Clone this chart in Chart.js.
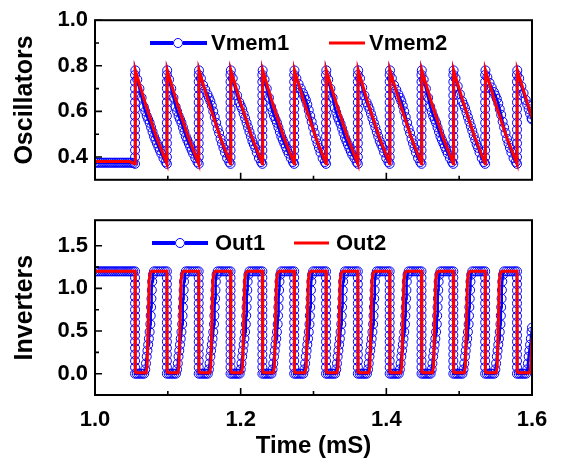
<!DOCTYPE html>
<html><head><meta charset="utf-8">
<script src="https://cdn.jsdelivr.net/npm/chart.js@4.4.1/dist/chart.umd.min.js"></script>
<style>
html,body{margin:0;padding:0;background:#fff;width:561px;height:463px;overflow:hidden}
#c1{position:absolute;left:0;top:0}
#c2{position:absolute;left:0;top:200px}
</style></head><body>
<canvas id="c1" width="561" height="200"></canvas>
<canvas id="c2" width="561" height="263"></canvas>
<script>
// ---------- tick labels ----------
const xMajorTicks = [1.0, 1.2, 1.4, 1.6];
const xMinorTicks = [1.1, 1.3, 1.5];
const xTickLabels = ['1.0', '1.2', '1.4', '1.6'];
const oscTicks = [0.4, 0.6, 0.8, 1.0];
const oscMinorTicks = [0.5, 0.7, 0.9];
const oscTickLabels = ['0.4', '0.6', '0.8', '1.0'];
const invTicks = [0.0, 0.5, 1.0, 1.5];
const invMinorTicks = [-0.25, 0.25, 0.75, 1.25];
const invTickLabels = ['0.0', '0.5', '1.0', '1.5'];
const seriesNames = ['Vmem1', 'Vmem2', 'Out1', 'Out2'];

// ---------- Oscillators: Vmem2 (red) ----------
const vmem2 = [
[1.0000,.380],[1.0480,.380],[1.0530,.372],[1.0550,.370],
[1.0554,.780],[1.0696,.630],[1.0841,.490],[1.0987,.370],
[1.0991,.780],[1.1133,.630],[1.1278,.490],[1.1424,.370],
[1.1428,.780],[1.1570,.630],[1.1715,.490],[1.1861,.370],
[1.1865,.780],[1.2007,.630],[1.2152,.490],[1.2298,.370],
[1.2302,.780],[1.2444,.630],[1.2589,.490],[1.2735,.370],
[1.2739,.780],[1.2881,.630],[1.3026,.490],[1.3172,.370],
[1.3176,.780],[1.3318,.630],[1.3463,.490],[1.3609,.370],
[1.3613,.780],[1.3755,.630],[1.3900,.490],[1.4046,.370],
[1.4050,.780],[1.4192,.630],[1.4337,.490],[1.4483,.370],
[1.4487,.780],[1.4629,.630],[1.4774,.490],[1.4920,.370],
[1.4924,.780],[1.5066,.630],[1.5211,.490],[1.5357,.370],
[1.5361,.780],[1.5503,.630],[1.5648,.490],[1.5794,.370],
[1.5798,.780],[1.6000,.572]
];

// ---------- Oscillators: Vmem1 (blue circles) ----------
const vmem1 = [
[1.0000,.375],[1.0025,.375],[1.0050,.375],[1.0075,.375],[1.0100,.375],[1.0125,.375],[1.0150,.375],[1.0175,.375],[1.0200,.375],[1.0225,.375],[1.0250,.375],[1.0275,.375],[1.0300,.375],[1.0325,.375],[1.0350,.375],[1.0375,.375],[1.0400,.375],[1.0425,.375],[1.0450,.375],[1.0475,.375],[1.0500,.375],[1.0525,.373],
[1.0550,.37],[1.0550,.40],[1.0550,.43],[1.0550,.46],[1.0550,.49],[1.0550,.52],[1.0550,.55],[1.0550,.58],[1.0550,.61],[1.0550,.64],[1.0550,.67],[1.0550,.70],[1.0550,.73],[1.0550,.76],[1.0554,.78],
[1.0580,.74],[1.0610,.70],[1.0640,.66],[1.0670,.62],[1.0690,.60],[1.0710,.58],[1.0730,.565],[1.0750,.55],[1.0770,.53],[1.0790,.51],[1.0810,.49],[1.0830,.475],[1.0850,.46],[1.0870,.445],[1.0890,.43],[1.0910,.415],[1.0940,.395],[1.0970,.378],
[1.0987,.37],[1.0987,.40],[1.0987,.43],[1.0987,.46],[1.0987,.49],[1.0987,.52],[1.0987,.55],[1.0987,.58],[1.0987,.61],[1.0987,.64],[1.0987,.67],[1.0987,.70],[1.0987,.73],[1.0987,.76],[1.0991,.78],
[1.1017,.74],[1.1047,.70],[1.1077,.66],[1.1107,.62],[1.1127,.60],[1.1147,.58],[1.1167,.565],[1.1187,.55],[1.1207,.53],[1.1227,.51],[1.1247,.49],[1.1267,.475],[1.1287,.46],[1.1307,.445],[1.1327,.43],[1.1347,.415],[1.1377,.395],[1.1407,.378],
[1.1424,.37],[1.1424,.40],[1.1424,.43],[1.1424,.46],[1.1424,.49],[1.1424,.52],[1.1424,.55],[1.1424,.58],[1.1424,.61],[1.1424,.64],[1.1424,.67],[1.1424,.70],[1.1424,.73],[1.1424,.76],[1.1428,.78],
[1.1454,.745],[1.1484,.715],[1.1514,.695],[1.1544,.675],[1.1564,.66],[1.1584,.645],[1.1604,.625],[1.1624,.60],[1.1644,.575],[1.1664,.55],[1.1684,.525],[1.1704,.505],[1.1724,.48],[1.1744,.46],[1.1764,.44],[1.1784,.42],[1.1814,.395],[1.1844,.378],
[1.1861,.37],[1.1861,.40],[1.1861,.43],[1.1861,.46],[1.1861,.49],[1.1861,.52],[1.1861,.55],[1.1861,.58],[1.1861,.61],[1.1861,.64],[1.1861,.67],[1.1861,.70],[1.1861,.73],[1.1861,.76],[1.1865,.78],
[1.1891,.745],[1.1921,.705],[1.1951,.67],[1.1981,.64],[1.2001,.625],[1.2021,.61],[1.2041,.59],[1.2061,.57],[1.2081,.55],[1.2101,.53],[1.2121,.51],[1.2141,.49],[1.2161,.47],[1.2181,.455],[1.2201,.44],[1.2221,.42],[1.2251,.395],[1.2281,.378],
[1.2298,.37],[1.2298,.40],[1.2298,.43],[1.2298,.46],[1.2298,.49],[1.2298,.52],[1.2298,.55],[1.2298,.58],[1.2298,.61],[1.2298,.64],[1.2298,.67],[1.2298,.70],[1.2298,.73],[1.2298,.76],[1.2302,.78],
[1.2328,.74],[1.2358,.70],[1.2388,.66],[1.2418,.62],[1.2438,.60],[1.2458,.58],[1.2478,.565],[1.2498,.55],[1.2518,.53],[1.2538,.51],[1.2558,.49],[1.2578,.475],[1.2598,.46],[1.2618,.445],[1.2638,.43],[1.2658,.415],[1.2688,.395],[1.2718,.378],
[1.2735,.37],[1.2735,.40],[1.2735,.43],[1.2735,.46],[1.2735,.49],[1.2735,.52],[1.2735,.55],[1.2735,.58],[1.2735,.61],[1.2735,.64],[1.2735,.67],[1.2735,.70],[1.2735,.73],[1.2735,.76],[1.2739,.78],
[1.2765,.745],[1.2795,.72],[1.2825,.70],[1.2855,.68],[1.2875,.665],[1.2895,.65],[1.2915,.63],[1.2935,.605],[1.2955,.58],[1.2975,.555],[1.2995,.53],[1.3015,.505],[1.3035,.48],[1.3055,.46],[1.3075,.44],[1.3095,.42],[1.3125,.395],[1.3155,.378],
[1.3172,.37],[1.3172,.40],[1.3172,.43],[1.3172,.46],[1.3172,.49],[1.3172,.52],[1.3172,.55],[1.3172,.58],[1.3172,.61],[1.3172,.64],[1.3172,.67],[1.3172,.70],[1.3172,.73],[1.3172,.76],[1.3176,.78],
[1.3202,.74],[1.3232,.70],[1.3262,.66],[1.3292,.615],[1.3312,.595],[1.3332,.575],[1.3352,.56],[1.3372,.545],[1.3392,.525],[1.3412,.505],[1.3432,.485],[1.3452,.47],[1.3472,.455],[1.3492,.44],[1.3512,.425],[1.3532,.41],[1.3562,.395],[1.3592,.378],
[1.3609,.37],[1.3609,.40],[1.3609,.43],[1.3609,.46],[1.3609,.49],[1.3609,.52],[1.3609,.55],[1.3609,.58],[1.3609,.61],[1.3609,.64],[1.3609,.67],[1.3609,.70],[1.3609,.73],[1.3609,.76],[1.3613,.78],
[1.3639,.745],[1.3669,.705],[1.3699,.67],[1.3729,.64],[1.3749,.625],[1.3769,.61],[1.3789,.59],[1.3809,.57],[1.3829,.55],[1.3849,.53],[1.3869,.51],[1.3889,.49],[1.3909,.47],[1.3929,.455],[1.3949,.44],[1.3969,.42],[1.3999,.395],[1.4029,.378],
[1.4046,.37],[1.4046,.40],[1.4046,.43],[1.4046,.46],[1.4046,.49],[1.4046,.52],[1.4046,.55],[1.4046,.58],[1.4046,.61],[1.4046,.64],[1.4046,.67],[1.4046,.70],[1.4046,.73],[1.4046,.76],[1.4050,.78],
[1.4076,.745],[1.4106,.715],[1.4136,.695],[1.4166,.675],[1.4186,.66],[1.4206,.645],[1.4226,.625],[1.4246,.60],[1.4266,.575],[1.4286,.55],[1.4306,.525],[1.4326,.505],[1.4346,.48],[1.4366,.46],[1.4386,.44],[1.4406,.42],[1.4436,.395],[1.4466,.378],
[1.4483,.37],[1.4483,.40],[1.4483,.43],[1.4483,.46],[1.4483,.49],[1.4483,.52],[1.4483,.55],[1.4483,.58],[1.4483,.61],[1.4483,.64],[1.4483,.67],[1.4483,.70],[1.4483,.73],[1.4483,.76],[1.4487,.78],
[1.4513,.74],[1.4543,.70],[1.4573,.66],[1.4603,.62],[1.4623,.60],[1.4643,.58],[1.4663,.565],[1.4683,.55],[1.4703,.53],[1.4723,.51],[1.4743,.49],[1.4763,.475],[1.4783,.46],[1.4803,.445],[1.4823,.43],[1.4843,.415],[1.4873,.395],[1.4903,.378],
[1.4920,.37],[1.4920,.40],[1.4920,.43],[1.4920,.46],[1.4920,.49],[1.4920,.52],[1.4920,.55],[1.4920,.58],[1.4920,.61],[1.4920,.64],[1.4920,.67],[1.4920,.70],[1.4920,.73],[1.4920,.76],[1.4924,.78],
[1.4950,.745],[1.4980,.71],[1.5010,.675],[1.5040,.645],[1.5060,.63],[1.5080,.615],[1.5100,.595],[1.5120,.575],[1.5140,.555],[1.5160,.535],[1.5180,.515],[1.5200,.495],[1.5220,.475],[1.5240,.455],[1.5260,.44],[1.5280,.42],[1.5310,.395],[1.5340,.378],
[1.5357,.37],[1.5357,.40],[1.5357,.43],[1.5357,.46],[1.5357,.49],[1.5357,.52],[1.5357,.55],[1.5357,.58],[1.5357,.61],[1.5357,.64],[1.5357,.67],[1.5357,.70],[1.5357,.73],[1.5357,.76],[1.5361,.78],
[1.5387,.75],[1.5417,.725],[1.5447,.705],[1.5477,.685],[1.5497,.67],[1.5517,.655],[1.5537,.635],[1.5557,.61],[1.5577,.585],[1.5597,.555],[1.5617,.53],[1.5637,.505],[1.5657,.48],[1.5677,.46],[1.5697,.44],[1.5717,.42],[1.5747,.395],[1.5777,.378],
[1.5794,.37],[1.5794,.40],[1.5794,.43],[1.5794,.46],[1.5794,.49],[1.5794,.52],[1.5794,.55],[1.5794,.58],[1.5794,.61],[1.5794,.64],[1.5794,.67],[1.5794,.70],[1.5794,.73],[1.5794,.76],[1.5798,.78],
[1.5824,.745],[1.5854,.71],[1.5884,.68],[1.5914,.65],[1.5934,.63],[1.5954,.61],[1.5974,.59],[1.5994,.57],[1.6000,.565]
];

// ---------- Inverters: Out2 (red) ----------
const out2 = [
[1.0000,1.20],[1.0550,1.20],
[1.0554,.02],[1.0570,.01],[1.0700,.01],[1.0715,.08],[1.0745,1.10],[1.0760,1.18],[1.0780,1.20],[1.0987,1.20],
[1.0991,.02],[1.1007,.01],[1.1137,.01],[1.1152,.08],[1.1182,1.10],[1.1197,1.18],[1.1217,1.20],[1.1424,1.20],
[1.1428,.02],[1.1444,.01],[1.1574,.01],[1.1589,.08],[1.1619,1.10],[1.1634,1.18],[1.1654,1.20],[1.1861,1.20],
[1.1865,.02],[1.1881,.01],[1.2011,.01],[1.2026,.08],[1.2056,1.10],[1.2071,1.18],[1.2091,1.20],[1.2298,1.20],
[1.2302,.02],[1.2318,.01],[1.2448,.01],[1.2463,.08],[1.2493,1.10],[1.2508,1.18],[1.2528,1.20],[1.2735,1.20],
[1.2739,.02],[1.2755,.01],[1.2885,.01],[1.2900,.08],[1.2930,1.10],[1.2945,1.18],[1.2965,1.20],[1.3172,1.20],
[1.3176,.02],[1.3192,.01],[1.3322,.01],[1.3337,.08],[1.3367,1.10],[1.3382,1.18],[1.3402,1.20],[1.3609,1.20],
[1.3613,.02],[1.3629,.01],[1.3759,.01],[1.3774,.08],[1.3804,1.10],[1.3819,1.18],[1.3839,1.20],[1.4046,1.20],
[1.4050,.02],[1.4066,.01],[1.4196,.01],[1.4211,.08],[1.4241,1.10],[1.4256,1.18],[1.4276,1.20],[1.4483,1.20],
[1.4487,.02],[1.4503,.01],[1.4633,.01],[1.4648,.08],[1.4678,1.10],[1.4693,1.18],[1.4713,1.20],[1.4920,1.20],
[1.4924,.02],[1.4940,.01],[1.5070,.01],[1.5085,.08],[1.5115,1.10],[1.5130,1.18],[1.5150,1.20],[1.5357,1.20],
[1.5361,.02],[1.5377,.01],[1.5507,.01],[1.5522,.08],[1.5552,1.10],[1.5567,1.18],[1.5587,1.20],[1.5794,1.20],
[1.5798,.02],[1.5814,.01],[1.5970,.01],[1.5983,.08],[1.6000,.42]
];

// ---------- Inverters: Out1 (blue circles) ----------
const out1 = [
[1.0000,1.2],[1.0025,1.2],[1.0050,1.2],[1.0075,1.2],[1.0100,1.2],[1.0125,1.2],[1.0150,1.2],[1.0175,1.2],[1.0200,1.2],[1.0225,1.2],[1.0250,1.2],[1.0275,1.2],[1.0300,1.2],[1.0325,1.2],[1.0350,1.2],[1.0375,1.2],[1.0400,1.2],[1.0425,1.2],[1.0450,1.2],[1.0475,1.2],[1.0500,1.2],[1.0525,1.2],
[1.0550,1.2],[1.0550,1.125],[1.0550,1.05],[1.0550,.975],[1.0550,.9],[1.0550,.825],[1.0550,.75],[1.0550,.675],[1.0550,.6],[1.0550,.525],[1.0550,.45],[1.0550,.375],[1.0550,.3],[1.0550,.225],[1.0550,.15],[1.0550,.075],[1.0550,0],
[1.0575,0],[1.0600,0],[1.0625,0],[1.0650,0],[1.0675,0],[1.0690,.05],[1.0700,.12],[1.0710,.20],[1.0720,.27],[1.0730,.34],[1.0740,.41],[1.0750,.49],[1.0760,.58],[1.0765,.68],[1.0770,.78],[1.0775,.88],[1.0780,.98],[1.0785,1.08],[1.0795,1.16],[1.0810,1.2],[1.0840,1.2],[1.0870,1.2],[1.0900,1.2],[1.0930,1.2],[1.0960,1.2],
[1.0987,1.2],[1.0987,1.125],[1.0987,1.05],[1.0987,.975],[1.0987,.9],[1.0987,.825],[1.0987,.75],[1.0987,.675],[1.0987,.6],[1.0987,.525],[1.0987,.45],[1.0987,.375],[1.0987,.3],[1.0987,.225],[1.0987,.15],[1.0987,.075],[1.0987,0],
[1.1012,0],[1.1037,0],[1.1062,0],[1.1087,0],[1.1112,0],[1.1127,.05],[1.1137,.12],[1.1147,.20],[1.1157,.27],[1.1167,.34],[1.1177,.41],[1.1187,.49],[1.1197,.58],[1.1202,.68],[1.1207,.78],[1.1212,.88],[1.1217,.98],[1.1222,1.08],[1.1232,1.16],[1.1247,1.2],[1.1277,1.2],[1.1307,1.2],[1.1337,1.2],[1.1367,1.2],[1.1397,1.2],
[1.1424,1.2],[1.1424,1.125],[1.1424,1.05],[1.1424,.975],[1.1424,.9],[1.1424,.825],[1.1424,.75],[1.1424,.675],[1.1424,.6],[1.1424,.525],[1.1424,.45],[1.1424,.375],[1.1424,.3],[1.1424,.225],[1.1424,.15],[1.1424,.075],[1.1424,0],
[1.1449,0],[1.1474,0],[1.1499,0],[1.1524,0],[1.1549,0],[1.1564,.05],[1.1574,.12],[1.1584,.20],[1.1594,.27],[1.1604,.34],[1.1614,.41],[1.1624,.49],[1.1634,.58],[1.1639,.68],[1.1644,.78],[1.1649,.88],[1.1654,.98],[1.1659,1.08],[1.1669,1.16],[1.1684,1.2],[1.1714,1.2],[1.1744,1.2],[1.1774,1.2],[1.1804,1.2],[1.1834,1.2],
[1.1861,1.2],[1.1861,1.125],[1.1861,1.05],[1.1861,.975],[1.1861,.9],[1.1861,.825],[1.1861,.75],[1.1861,.675],[1.1861,.6],[1.1861,.525],[1.1861,.45],[1.1861,.375],[1.1861,.3],[1.1861,.225],[1.1861,.15],[1.1861,.075],[1.1861,0],
[1.1886,0],[1.1911,0],[1.1936,0],[1.1961,0],[1.1986,0],[1.2001,.05],[1.2011,.12],[1.2021,.20],[1.2031,.27],[1.2041,.34],[1.2051,.41],[1.2061,.49],[1.2071,.58],[1.2076,.68],[1.2081,.78],[1.2086,.88],[1.2091,.98],[1.2096,1.08],[1.2106,1.16],[1.2121,1.2],[1.2151,1.2],[1.2181,1.2],[1.2211,1.2],[1.2241,1.2],[1.2271,1.2],
[1.2298,1.2],[1.2298,1.125],[1.2298,1.05],[1.2298,.975],[1.2298,.9],[1.2298,.825],[1.2298,.75],[1.2298,.675],[1.2298,.6],[1.2298,.525],[1.2298,.45],[1.2298,.375],[1.2298,.3],[1.2298,.225],[1.2298,.15],[1.2298,.075],[1.2298,0],
[1.2323,0],[1.2348,0],[1.2373,0],[1.2398,0],[1.2423,0],[1.2438,.05],[1.2448,.12],[1.2458,.20],[1.2468,.27],[1.2478,.34],[1.2488,.41],[1.2498,.49],[1.2508,.58],[1.2513,.68],[1.2518,.78],[1.2523,.88],[1.2528,.98],[1.2533,1.08],[1.2543,1.16],[1.2558,1.2],[1.2588,1.2],[1.2618,1.2],[1.2648,1.2],[1.2678,1.2],[1.2708,1.2],
[1.2735,1.2],[1.2735,1.125],[1.2735,1.05],[1.2735,.975],[1.2735,.9],[1.2735,.825],[1.2735,.75],[1.2735,.675],[1.2735,.6],[1.2735,.525],[1.2735,.45],[1.2735,.375],[1.2735,.3],[1.2735,.225],[1.2735,.15],[1.2735,.075],[1.2735,0],
[1.2760,0],[1.2785,0],[1.2810,0],[1.2835,0],[1.2860,0],[1.2875,.05],[1.2885,.12],[1.2895,.20],[1.2905,.27],[1.2915,.34],[1.2925,.41],[1.2935,.49],[1.2945,.58],[1.2950,.68],[1.2955,.78],[1.2960,.88],[1.2965,.98],[1.2970,1.08],[1.2980,1.16],[1.2995,1.2],[1.3025,1.2],[1.3055,1.2],[1.3085,1.2],[1.3115,1.2],[1.3145,1.2],
[1.3172,1.2],[1.3172,1.125],[1.3172,1.05],[1.3172,.975],[1.3172,.9],[1.3172,.825],[1.3172,.75],[1.3172,.675],[1.3172,.6],[1.3172,.525],[1.3172,.45],[1.3172,.375],[1.3172,.3],[1.3172,.225],[1.3172,.15],[1.3172,.075],[1.3172,0],
[1.3197,0],[1.3222,0],[1.3247,0],[1.3272,0],[1.3297,0],[1.3312,.05],[1.3322,.12],[1.3332,.20],[1.3342,.27],[1.3352,.34],[1.3362,.41],[1.3372,.49],[1.3382,.58],[1.3387,.68],[1.3392,.78],[1.3397,.88],[1.3402,.98],[1.3407,1.08],[1.3417,1.16],[1.3432,1.2],[1.3462,1.2],[1.3492,1.2],[1.3522,1.2],[1.3552,1.2],[1.3582,1.2],
[1.3609,1.2],[1.3609,1.125],[1.3609,1.05],[1.3609,.975],[1.3609,.9],[1.3609,.825],[1.3609,.75],[1.3609,.675],[1.3609,.6],[1.3609,.525],[1.3609,.45],[1.3609,.375],[1.3609,.3],[1.3609,.225],[1.3609,.15],[1.3609,.075],[1.3609,0],
[1.3634,0],[1.3659,0],[1.3684,0],[1.3709,0],[1.3734,0],[1.3749,.05],[1.3759,.12],[1.3769,.20],[1.3779,.27],[1.3789,.34],[1.3799,.41],[1.3809,.49],[1.3819,.58],[1.3824,.68],[1.3829,.78],[1.3834,.88],[1.3839,.98],[1.3844,1.08],[1.3854,1.16],[1.3869,1.2],[1.3899,1.2],[1.3929,1.2],[1.3959,1.2],[1.3989,1.2],[1.4019,1.2],
[1.4046,1.2],[1.4046,1.125],[1.4046,1.05],[1.4046,.975],[1.4046,.9],[1.4046,.825],[1.4046,.75],[1.4046,.675],[1.4046,.6],[1.4046,.525],[1.4046,.45],[1.4046,.375],[1.4046,.3],[1.4046,.225],[1.4046,.15],[1.4046,.075],[1.4046,0],
[1.4071,0],[1.4096,0],[1.4121,0],[1.4146,0],[1.4171,0],[1.4186,.05],[1.4196,.12],[1.4206,.20],[1.4216,.27],[1.4226,.34],[1.4236,.41],[1.4246,.49],[1.4256,.58],[1.4261,.68],[1.4266,.78],[1.4271,.88],[1.4276,.98],[1.4281,1.08],[1.4291,1.16],[1.4306,1.2],[1.4336,1.2],[1.4366,1.2],[1.4396,1.2],[1.4426,1.2],[1.4456,1.2],
[1.4483,1.2],[1.4483,1.125],[1.4483,1.05],[1.4483,.975],[1.4483,.9],[1.4483,.825],[1.4483,.75],[1.4483,.675],[1.4483,.6],[1.4483,.525],[1.4483,.45],[1.4483,.375],[1.4483,.3],[1.4483,.225],[1.4483,.15],[1.4483,.075],[1.4483,0],
[1.4508,0],[1.4533,0],[1.4558,0],[1.4583,0],[1.4608,0],[1.4623,.05],[1.4633,.12],[1.4643,.20],[1.4653,.27],[1.4663,.34],[1.4673,.41],[1.4683,.49],[1.4693,.58],[1.4698,.68],[1.4703,.78],[1.4708,.88],[1.4713,.98],[1.4718,1.08],[1.4728,1.16],[1.4743,1.2],[1.4773,1.2],[1.4803,1.2],[1.4833,1.2],[1.4863,1.2],[1.4893,1.2],
[1.4920,1.2],[1.4920,1.125],[1.4920,1.05],[1.4920,.975],[1.4920,.9],[1.4920,.825],[1.4920,.75],[1.4920,.675],[1.4920,.6],[1.4920,.525],[1.4920,.45],[1.4920,.375],[1.4920,.3],[1.4920,.225],[1.4920,.15],[1.4920,.075],[1.4920,0],
[1.4945,0],[1.4970,0],[1.4995,0],[1.5020,0],[1.5045,0],[1.5060,.05],[1.5070,.12],[1.5080,.20],[1.5090,.27],[1.5100,.34],[1.5110,.41],[1.5120,.49],[1.5130,.58],[1.5135,.68],[1.5140,.78],[1.5145,.88],[1.5150,.98],[1.5155,1.08],[1.5165,1.16],[1.5180,1.2],[1.5210,1.2],[1.5240,1.2],[1.5270,1.2],[1.5300,1.2],[1.5330,1.2],
[1.5357,1.2],[1.5357,1.125],[1.5357,1.05],[1.5357,.975],[1.5357,.9],[1.5357,.825],[1.5357,.75],[1.5357,.675],[1.5357,.6],[1.5357,.525],[1.5357,.45],[1.5357,.375],[1.5357,.3],[1.5357,.225],[1.5357,.15],[1.5357,.075],[1.5357,0],
[1.5382,0],[1.5407,0],[1.5432,0],[1.5457,0],[1.5482,0],[1.5497,.05],[1.5507,.12],[1.5517,.20],[1.5527,.27],[1.5537,.34],[1.5547,.41],[1.5557,.49],[1.5567,.58],[1.5572,.68],[1.5577,.78],[1.5582,.88],[1.5587,.98],[1.5592,1.08],[1.5602,1.16],[1.5617,1.2],[1.5647,1.2],[1.5677,1.2],[1.5707,1.2],[1.5737,1.2],[1.5767,1.2],
[1.5794,1.2],[1.5794,1.125],[1.5794,1.05],[1.5794,.975],[1.5794,.9],[1.5794,.825],[1.5794,.75],[1.5794,.675],[1.5794,.6],[1.5794,.525],[1.5794,.45],[1.5794,.375],[1.5794,.3],[1.5794,.225],[1.5794,.15],[1.5794,.075],[1.5794,0],
[1.5819,0],[1.5844,0],[1.5869,0],[1.5894,0],[1.5919,0],[1.5934,.05],[1.5944,.12],[1.5954,.20],[1.5964,.27],[1.5974,.34],[1.5984,.41],[1.5994,.49],[1.6000,.54]
];

// ---------- rendering ----------
const FONT = "'Liberation Sans', Arial, Helvetica, sans-serif";
const BLUE = '#0000ff';
const RED = '#ff0000';
Chart.defaults.font.family = FONT;
Chart.defaults.color = '#000';

const toXY = arr => arr.map(p => ({x: p[0], y: p[1]}));

const framePlugin = {
  id: 'frameTicks',
  afterDatasetsDraw(chart, args, o) {
    const {ctx, chartArea: a, scales: {x, y}} = chart;
    ctx.save();
    ctx.strokeStyle = '#000';
    ctx.lineWidth = 2;
    ctx.strokeRect(a.left, a.top, a.right - a.left, a.bottom - a.top);
    ctx.lineWidth = 1.6;
    ctx.beginPath();
    o.xMajor.forEach(v => { const p = x.getPixelForValue(v); ctx.moveTo(p, a.bottom); ctx.lineTo(p, a.bottom - 7); });
    o.xMinor.forEach(v => { const p = x.getPixelForValue(v); ctx.moveTo(p, a.bottom); ctx.lineTo(p, a.bottom - 4); });
    o.yMajor.forEach(v => { const p = y.getPixelForValue(v); ctx.moveTo(a.left, p); ctx.lineTo(a.left + 7, p); });
    o.yMinor.forEach(v => { const p = y.getPixelForValue(v); ctx.moveTo(a.left, p); ctx.lineTo(a.left + 4, p); });
    ctx.stroke();
    // legend
    const L = o.legend;
    ctx.font = 'bold 22px ' + FONT;
    ctx.textBaseline = 'middle';
    ctx.textAlign = 'left';
    ctx.strokeStyle = BLUE; ctx.lineWidth = 4;
    ctx.beginPath();
    ctx.moveTo(L.b0, L.y); ctx.lineTo(L.bc - 5, L.y);
    ctx.moveTo(L.bc + 5, L.y); ctx.lineTo(L.b1, L.y);
    ctx.stroke();
    ctx.lineWidth = 1;
    ctx.beginPath(); ctx.arc(L.bc, L.y, 4.5, 0, Math.PI * 2); ctx.stroke();
    ctx.fillStyle = '#000';
    ctx.fillText(L.bText, L.bt, L.y + 1);
    ctx.strokeStyle = RED; ctx.lineWidth = 3;
    ctx.beginPath(); ctx.moveTo(L.r0, L.y); ctx.lineTo(L.r1, L.y); ctx.stroke();
    ctx.fillText(L.rText, L.rt, L.y + 1);
    ctx.restore();
  }
};

function blueSet(label, data) {
  return {label, data: toXY(data), borderColor: BLUE, borderWidth: 2.5, pointRadius: 4.5,
    pointBorderWidth: 1, pointBackgroundColor: 'rgba(0,0,0,0)', pointBorderColor: BLUE,
    pointHoverRadius: 4.5, tension: 0, clip: 0, order: 2};
}
function redSet(label, data) {
  return {label, data: toXY(data), borderColor: RED, borderWidth: 3, pointRadius: 0,
    tension: 0, clip: 0, order: 1};
}

const tickFont = {size: 22, weight: 'bold', family: FONT};
const titleFont = {size: 25, weight: 'bold', family: FONT};

function makeChart(id, cfg) {
  return new Chart(document.getElementById(id), {
    type: 'line',
    data: {datasets: cfg.datasets},
    options: {
      responsive: false, animation: false, devicePixelRatio: 1,
      events: [],
      layout: {padding: {top: cfg.padTop, right: 29, left: 0, bottom: 0}},
      plugins: {legend: {display: false}, tooltip: {enabled: false},
        frameTicks: cfg.frame},
      scales: {
        x: {
          type: 'linear', min: 1.0, max: 1.6,
          grid: {display: false, drawTicks: false}, border: {display: false},
          afterBuildTicks: s => { s.ticks = xMajorTicks.map(v => ({value: v})); },
          afterFit: s => { s.height = cfg.xHeight; },
          ticks: {display: cfg.showX, padding: 12, font: tickFont, color: '#000', maxRotation: 0,
            callback: v => xTickLabels[xMajorTicks.indexOf(v)]},
          title: {display: cfg.showX, text: 'Time (mS)', color: '#000',
            font: {size: 24, weight: 'bold', family: FONT}, padding: {top: 0, bottom: 2}}
        },
        y: {
          type: 'linear', min: cfg.yMin, max: cfg.yMax,
          grid: {display: false, drawTicks: false}, border: {display: false},
          afterBuildTicks: s => { s.ticks = cfg.yTicks.map(v => ({value: v})); },
          afterFit: s => { s.width = 95; },
          ticks: {padding: 7, font: tickFont, color: '#000',
            callback: v => cfg.yLabels[cfg.yTicks.indexOf(v)]},
          title: {display: true, text: cfg.yTitle, color: '#000', font: titleFont, padding: {top: 10, bottom: 0}}
        }
      }
    },
    plugins: [framePlugin]
  });
}

makeChart('c1', {
  padTop: 18, xHeight: 15, showX: false, yMin: 0.3, yMax: 1.0,
  yTicks: oscTicks, yLabels: oscTickLabels, yTitle: 'Oscillators',
  datasets: [redSet(seriesNames[1], vmem2), blueSet(seriesNames[0], vmem1)],
  frame: {xMajor: xMajorTicks, xMinor: xMinorTicks, yMajor: oscTicks, yMinor: oscMinorTicks,
    legend: {y: 43, b0: 150, b1: 207, bc: 178, bt: 211, bText: seriesNames[0], r0: 329, r1: 365, rt: 369, rText: seriesNames[1]}}
});

makeChart('c2', {
  padTop: 19, xHeight: 68, showX: true, yMin: -0.25, yMax: 1.8,
  yTicks: invTicks, yLabels: invTickLabels, yTitle: 'Inverters',
  datasets: [redSet(seriesNames[3], out2), blueSet(seriesNames[2], out1)],
  frame: {xMajor: xMajorTicks, xMinor: xMinorTicks, yMajor: invTicks, yMinor: invMinorTicks,
    legend: {y: 43, b0: 152, b1: 208, bc: 180, bt: 215, bText: seriesNames[2], r0: 294, r1: 329, rt: 336, rText: seriesNames[3]}}
});
</script>
</body></html>
